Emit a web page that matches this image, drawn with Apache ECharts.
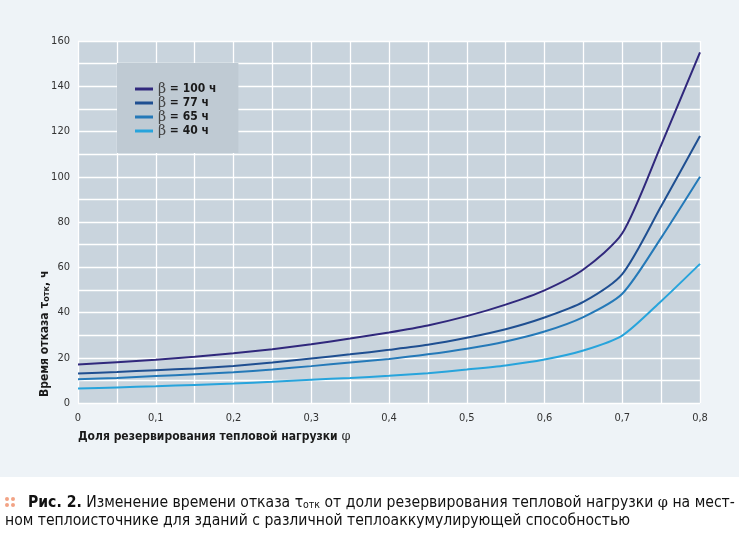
<!DOCTYPE html>
<html>
<head>
<meta charset="utf-8">
<script src="https://cdn.jsdelivr.net/npm/echarts@6/dist/echarts.min.js"></script>
<style>
	html, body { margin: 0; padding: 0; background: #fff; }
	#chart { width: 746px; height: 537px; }
</style>
</head>
<body>
<div id="chart"></div>
<script>
// доля резервирования тепловой нагрузки φ
var phi = [0, 0.05, 0.1, 0.15, 0.2, 0.25, 0.3, 0.35, 0.4, 0.45, 0.5, 0.55, 0.6, 0.65, 0.7, 0.75, 0.8];
// время отказа τотк, ч
var tau100 = [17, 18, 19.1, 20.4, 22, 23.8, 26, 28.5, 31.2, 34.3, 38.4, 43.5, 49.8, 59, 75, 114, 155];
var tau77 = [13, 13.7, 14.5, 15.3, 16.4, 17.9, 19.7, 21.5, 23.5, 25.7, 28.8, 32.6, 37.8, 44.7, 57, 87, 118];
var tau65 = [10.5, 11.1, 11.9, 12.7, 13.6, 14.8, 16.3, 17.9, 19.5, 21.5, 24, 27.2, 31.6, 38, 48.3, 73, 100];
var tau40 = [6.4, 6.9, 7.4, 8, 8.6, 9.4, 10.3, 11.1, 12, 13.2, 14.8, 16.6, 19.2, 23.2, 29.8, 45, 61.5];
var seriesNames = ['β = 100 ч', 'β = 77 ч', 'β = 65 ч', 'β = 40 ч'];
var seriesColors = ['#30287c', '#1f4f91', '#2479b8', '#27a4dc'];

var narrow = '"Liberation Sans Narrow", "DejaVu Sans Condensed", sans-serif';

function pairs(ys) {
	return phi.map(function(x, i) {
		return [x, ys[i]];
	});
}

function makeLine(name, ys, color) {
	return {
		name: name,
		type: 'line',
		data: pairs(ys),
		smooth: 0.25,
		showSymbol: false,
		lineStyle: { width: 2, color: color },
		itemStyle: { color: color }
	};
}

var chart = echarts.init(document.getElementById('chart'));

var option = {
	animation: false,
	backgroundColor: '#fff',
	grid: {
		left: 78, right: 46, top: 41, bottom: 134,
		show: true,
		backgroundColor: '#c9d4dd',
		borderWidth: 0
	},
	legend: {
		orient: 'vertical',
		left: 117,
		top: 63,
		padding: [19, 22, 15, 18],
		backgroundColor: '#bfcad3',
		itemWidth: 18,
		itemHeight: 3,
		itemGap: 0,
		icon: 'rect',
		data: seriesNames,
		formatter: function(name) {
			return '{g|β}{t|' + name.slice(1) + '}';
		},
		textStyle: {
			lineHeight: 14,
			rich: {
				g: { fontFamily: '"DejaVu Serif", serif', fontSize: 14, color: '#444', lineHeight: 14 },
				t: { fontFamily: narrow, fontWeight: 'bold', fontSize: 12, color: '#1a1a1a', lineHeight: 14 }
			}
		}
	},
	xAxis: {
		type: 'value',
		min: 0,
		max: 0.8,
		interval: 0.05,
		axisLine: { show: false },
		axisTick: { show: false },
		splitLine: { lineStyle: { color: '#ffffff', width: 1.3 } },
		axisLabel: {
			margin: 10,
			color: '#333',
			fontFamily: narrow,
			fontSize: 11,
			formatter: function(v) {
				var k = Math.round(v * 100);
				if (k % 10 !== 0) return '';
				return k === 0 ? '0' : (k / 100).toFixed(1).replace('.', ',');
			}
		}
	},
	yAxis: {
		type: 'value',
		min: 0,
		max: 160,
		interval: 10,
		axisLine: { show: false },
		axisTick: { show: false },
		splitLine: { lineStyle: { color: '#ffffff', width: 1.3 } },
		axisLabel: {
			margin: 8,
			color: '#333',
			fontFamily: narrow,
			fontSize: 11,
			formatter: function(v) {
				return v % 20 === 0 ? String(v) : '';
			}
		}
	},
	graphic: [
		// светлая подложка рисунка
		{ type: 'rect', z: -10, silent: true, shape: { x: 0, y: 0, width: 739, height: 477 }, style: { fill: '#eef3f7' } },
		// подпись оси Y
		{
			type: 'text', x: 44, y: 397, rotation: Math.PI / 2, z: 10,
			style: {
				text: '{t|Время отказа τ}{s|отк}{t|, ч}',
				align: 'left', verticalAlign: 'middle',
				rich: {
					t: { fontFamily: narrow, fontWeight: 'bold', fontSize: 12, fill: '#1a1a1a', verticalAlign: 'bottom', lineHeight: 14 },
					s: { fontFamily: narrow, fontWeight: 'bold', fontSize: 9, fill: '#1a1a1a', verticalAlign: 'bottom', lineHeight: 11 }
				}
			}
		},
		// подпись оси X
		{
			type: 'text', x: 78, y: 437, z: 10,
			style: {
				text: '{t|Доля резервирования тепловой нагрузки }{g|φ}',
				align: 'left', verticalAlign: 'middle',
				rich: {
					t: { fontFamily: narrow, fontWeight: 'bold', fontSize: 12, fill: '#1a1a1a' },
					g: { fontFamily: '"DejaVu Serif", serif', fontSize: 13, fill: '#333' }
				}
			}
		},
		// маркер подписи
		{ type: 'circle', shape: { cx: 7, cy: 499, r: 2 }, style: { fill: '#f2a385' } },
		{ type: 'circle', shape: { cx: 13, cy: 499, r: 2 }, style: { fill: '#f2a385' } },
		{ type: 'circle', shape: { cx: 7, cy: 505, r: 2 }, style: { fill: '#f2a385' } },
		{ type: 'circle', shape: { cx: 13, cy: 505, r: 2 }, style: { fill: '#f2a385' } },
		// подпись рисунка
		{
			type: 'text', x: 28, y: 502,
			style: {
				text: '{b|Рис. 2.}{r| Изменение времени отказа τ}{s|отк}{r| от доли резервирования тепловой нагрузки }{g|φ}{r| на мест-}',
				align: 'left', verticalAlign: 'middle',
				rich: {
					b: { fontFamily: narrow, fontWeight: 'bold', fontSize: 15.6, fill: '#111', verticalAlign: 'bottom', lineHeight: 18 },
					r: { fontFamily: narrow, fontSize: 15.6, fill: '#111', verticalAlign: 'bottom', lineHeight: 18 },
					s: { fontFamily: narrow, fontSize: 10.5, fill: '#111', verticalAlign: 'bottom', lineHeight: 14 },
					g: { fontFamily: '"DejaVu Serif", serif', fontSize: 14.5, fill: '#111', verticalAlign: 'bottom', lineHeight: 18 }
				}
			}
		},
		{
			type: 'text', x: 5, y: 521,
			style: {
				text: 'ном теплоисточнике для зданий с различной теплоаккумулирующей способностью',
				align: 'left', verticalAlign: 'middle',
				fontFamily: narrow, fontSize: 15.6, fill: '#111'
			}
		}
	],
	series: [
		makeLine(seriesNames[0], tau100, seriesColors[0]),
		makeLine(seriesNames[1], tau77, seriesColors[1]),
		makeLine(seriesNames[2], tau65, seriesColors[2]),
		makeLine(seriesNames[3], tau40, seriesColors[3])
	]
};

chart.setOption(option);
</script>
</body>
</html>
